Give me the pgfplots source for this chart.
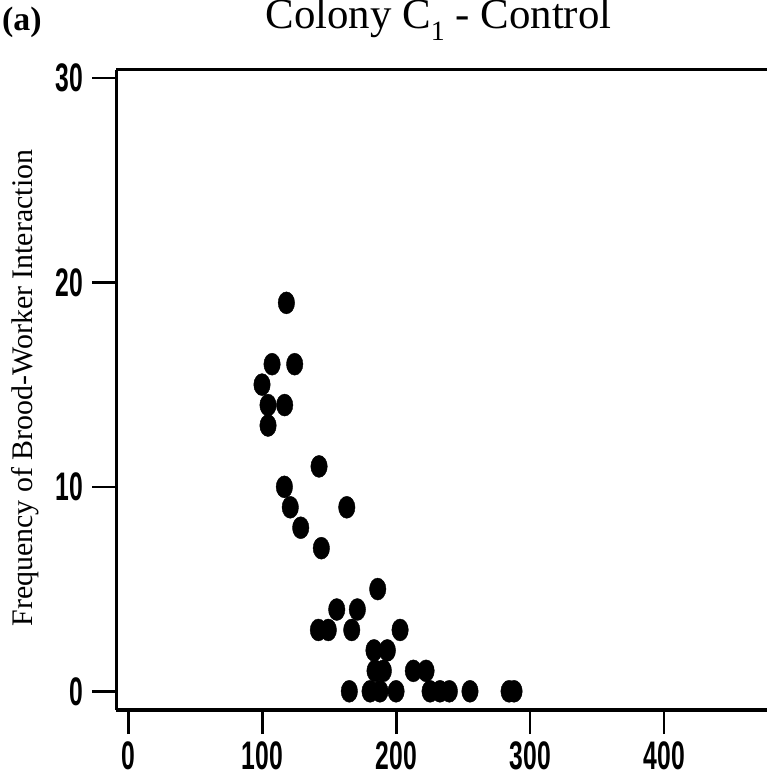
\documentclass[border=0pt]{standalone}
\usepackage{fontspec}
\setmainfont{Liberation Serif}
\newfontfamily\tickfont[FakeStretch=0.62]{Liberation Sans}
\usepackage{pgfplots}
\pgfplotsset{compat=1.18}
\begin{document}
\begin{tikzpicture}[x=1bp,y=1bp]
\begin{axis}[
  at={(116.4bp,73bp)}, anchor=south west,
  scale only axis, width=650.6bp, height=640bp,
  xmin=-9.04, xmax=476.8, ymin=-0.915, ymax=30.39,
  axis lines*=left,
  axis line style={line width=3bp},
  xtick={0,100,200,300,400}, ytick={0,10,20,30},
  tick align=outside, major tick length=24bp,
  tick style={line width=2.5bp,black},
  /pgf/number format/assume math mode=true,
  tick label style={font=\tickfont\bfseries\fontsize{40}{40}\selectfont},
  xticklabel style={yshift=-4bp},
  yticklabel style={xshift=-6bp},
  clip=false,
]
\addplot[only marks, mark=*, mark size=11bp, mark options={xscale=0.75, fill=black, draw=black}]
coordinates {
(117.9,19) (107.2,16) (124.1,16) (99.7,15) (104.2,14) (116.6,14) (104.2,13)
(142.3,11) (116.4,10) (120.8,9) (163,9) (128.6,8) (144,7) (186.1,5)
(155.5,4) (170.9,4) (141.8,3) (149.2,3) (166.7,3) (202.8,3)
(183.3,2) (193.3,2) (184.1,1) (190.3,1) (212.7,1) (222.2,1)
(164.9,0) (180.4,0) (187.8,0) (199.8,0) (225.2,0) (232.6,0) (239.6,0)
(255,0) (284.2,0) (287.9,0)
};
\draw[line width=3bp] (rel axis cs:0,1) -- (rel axis cs:1,1);
\end{axis}
\node[anchor=base, inner sep=0, font=\fontsize{43}{43}\selectfont] at (438.5bp,754bp)
  {Colony C\raisebox{-12bp}{\fontsize{28}{28}\selectfont 1} - Control};
\node[anchor=base west, inner sep=0, font=\bfseries\fontsize{34}{34}\selectfont] at (2bp,752bp) {(a)};
\node[rotate=90, anchor=base, inner sep=0, font=\fontsize{30}{30}\selectfont] at (32bp,395bp)
  {Frequency of Brood-Worker Interaction};
\pgfresetboundingbox
\useasboundingbox (0,0) rectangle (767bp,783bp);
\end{tikzpicture}
\end{document}
